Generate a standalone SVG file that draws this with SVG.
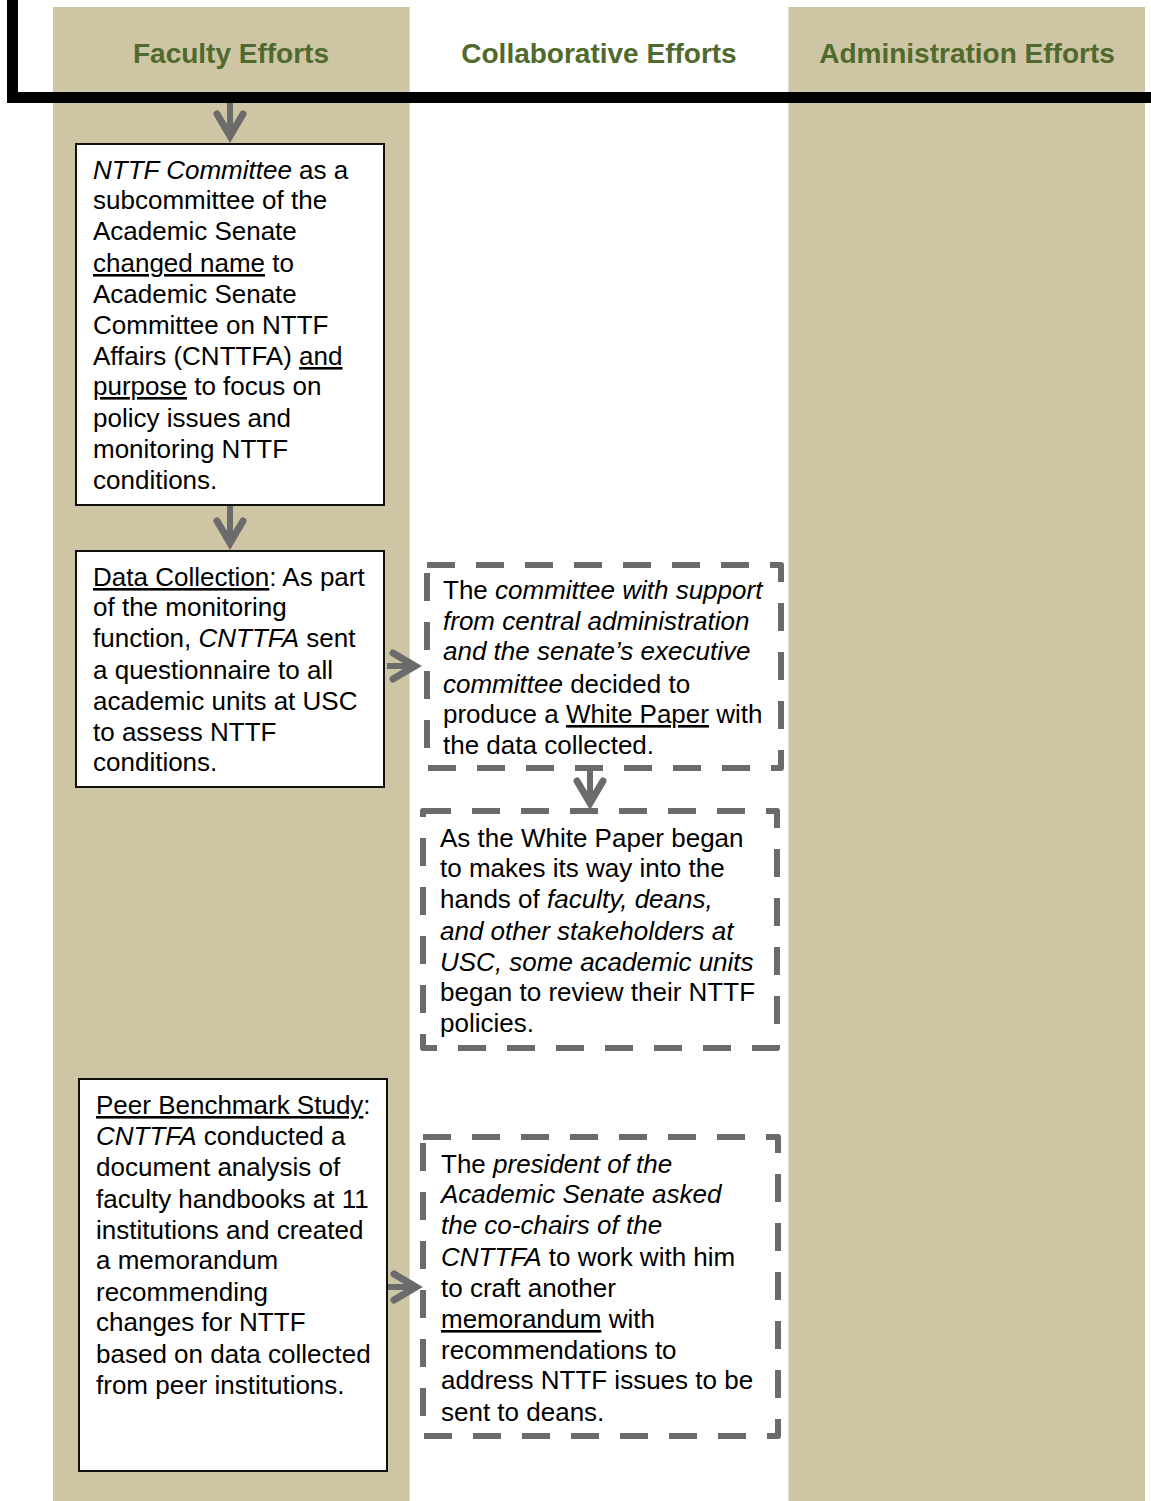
<svg xmlns="http://www.w3.org/2000/svg" width="1151" height="1501" viewBox="0 0 1151 1501">
<style>
.col{fill:#CEC5A5;}
.hdr{font-family:"Liberation Sans",Arial,sans-serif;font-size:28px;font-weight:bold;fill:#4F6A2C;text-anchor:middle;}
.box{fill:#fff;stroke:#111;stroke-width:2;}
.dbox{fill:#fff;stroke:#6b6b6b;stroke-width:6;stroke-dasharray:28 21;stroke-linejoin:round;}
.t{font-family:"Liberation Sans",Arial,sans-serif;font-size:26px;fill:#000;}
.i{font-style:italic;}
.u{text-decoration:underline;}
.conn{fill:none;stroke:#6b6b6b;stroke-width:6;stroke-linecap:butt;marker-end:url(#chev);}
</style>
<defs>
<marker id="chev" markerUnits="userSpaceOnUse" viewBox="-30 -20 42 40" refX="0" refY="0" markerWidth="42" markerHeight="40" orient="auto">
<path d="M-22,-13 L0,0 L-22,13" fill="none" stroke="#6b6b6b" stroke-width="7" stroke-linecap="round" stroke-linejoin="miter"/>
</marker>
</defs>
<rect width="1151" height="1501" fill="#fff"/>
<g id="columns">
<rect class="col" x="53" y="7" width="356" height="1494"/>
<rect class="col" x="789" y="7" width="356" height="1494"/>
<line x1="409.5" y1="7" x2="409.5" y2="1501" stroke="#dcdcdc" stroke-width="1"/>
<line x1="788.5" y1="7" x2="788.5" y2="1501" stroke="#dcdcdc" stroke-width="1"/>
</g>
<g id="headers">
<text class="hdr" x="231" y="63">Faculty Efforts</text>
<text class="hdr" x="599" y="63">Collaborative Efforts</text>
<text class="hdr" x="967" y="63">Administration Efforts</text>
</g>
<g id="connectors">
<path class="conn" d="M230,98 V136"/>
<path class="conn" d="M230,505 V543"/>
<path class="conn" d="M387,666 H415"/>
<path class="conn" d="M590,768 V803"/>
<path class="conn" d="M388,1287 H416"/>
</g>
<path id="bracket" d="M12.5,0 V97.5 H1151" fill="none" stroke="#000" stroke-width="11"/>
<g id="node-nttf-committee">
<rect class="box" x="76" y="144" width="308" height="361"/>
<text class="t">
<tspan x="93" y="179"><tspan class="i">NTTF Committee</tspan> as a</tspan>
<tspan x="93" y="209">subcommittee of the</tspan>
<tspan x="93" y="240">Academic Senate</tspan>
<tspan x="93" y="272"><tspan class="u">changed name</tspan> to</tspan>
<tspan x="93" y="303">Academic Senate</tspan>
<tspan x="93" y="334">Committee on NTTF</tspan>
<tspan x="93" y="365">Affairs (CNTTFA) <tspan class="u">and</tspan></tspan>
<tspan x="93" y="395"><tspan class="u">purpose</tspan> to focus on</tspan>
<tspan x="93" y="427">policy issues and</tspan>
<tspan x="93" y="458">monitoring NTTF</tspan>
<tspan x="93" y="489">conditions.</tspan>
</text>
</g>
<g id="node-data-collection">
<rect class="box" x="76" y="551" width="308" height="236"/>
<text class="t">
<tspan x="93" y="586"><tspan class="u">Data Collection</tspan>: As part</tspan>
<tspan x="93" y="616">of the monitoring</tspan>
<tspan x="93" y="647">function, <tspan class="i">CNTTFA</tspan> sent</tspan>
<tspan x="93" y="679">a questionnaire to all</tspan>
<tspan x="93" y="710">academic units at USC</tspan>
<tspan x="93" y="741">to assess NTTF</tspan>
<tspan x="93" y="771">conditions.</tspan>
</text>
</g>
<g id="node-white-paper">
<rect class="dbox" x="427" y="565" width="354" height="203"/>
<text class="t">
<tspan x="443" y="599">The <tspan class="i">committee with support</tspan></tspan>
<tspan x="443" y="630" class="i">from central administration</tspan>
<tspan x="443" y="660" class="i">and the senate’s executive</tspan>
<tspan x="443" y="693"><tspan class="i">committee</tspan> decided to</tspan>
<tspan x="443" y="723">produce a <tspan class="u">White Paper</tspan> with</tspan>
<tspan x="443" y="754">the data collected.</tspan>
</text>
</g>
<g id="node-review">
<rect class="dbox" x="423" y="811" width="354" height="237"/>
<text class="t">
<tspan x="440" y="847">As the White Paper began</tspan>
<tspan x="440" y="877">to makes its way into the</tspan>
<tspan x="440" y="908">hands of <tspan class="i">faculty, deans,</tspan></tspan>
<tspan x="440" y="940" class="i">and other stakeholders at</tspan>
<tspan x="440" y="971" class="i">USC, some academic units</tspan>
<tspan x="440" y="1001">began to review their NTTF</tspan>
<tspan x="440" y="1032">policies.</tspan>
</text>
</g>
<g id="node-peer-benchmark">
<rect class="box" x="79" y="1079" width="308" height="392"/>
<text class="t">
<tspan x="96" y="1114"><tspan class="u">Peer Benchmark Study</tspan>:</tspan>
<tspan x="96" y="1145"><tspan class="i">CNTTFA</tspan> conducted a</tspan>
<tspan x="96" y="1176">document analysis of</tspan>
<tspan x="96" y="1208">faculty handbooks at 11</tspan>
<tspan x="96" y="1239">institutions and created</tspan>
<tspan x="96" y="1269">a memorandum</tspan>
<tspan x="96" y="1301">recommending</tspan>
<tspan x="96" y="1331">changes for NTTF</tspan>
<tspan x="96" y="1363">based on data collected</tspan>
<tspan x="96" y="1394">from peer institutions.</tspan>
</text>
</g>
<g id="node-memorandum">
<rect class="dbox" x="423" y="1137" width="355" height="299"/>
<text class="t">
<tspan x="441" y="1173">The <tspan class="i">president of the</tspan></tspan>
<tspan x="441" y="1203" class="i">Academic Senate asked</tspan>
<tspan x="441" y="1234" class="i">the co-chairs of the</tspan>
<tspan x="441" y="1266"><tspan class="i">CNTTFA</tspan> to work with him</tspan>
<tspan x="441" y="1297">to craft another</tspan>
<tspan x="441" y="1328"><tspan class="u">memorandum</tspan> with</tspan>
<tspan x="441" y="1359">recommendations to</tspan>
<tspan x="441" y="1389">address NTTF issues to be</tspan>
<tspan x="441" y="1421">sent to deans.</tspan>
</text>
</g>
</svg>
